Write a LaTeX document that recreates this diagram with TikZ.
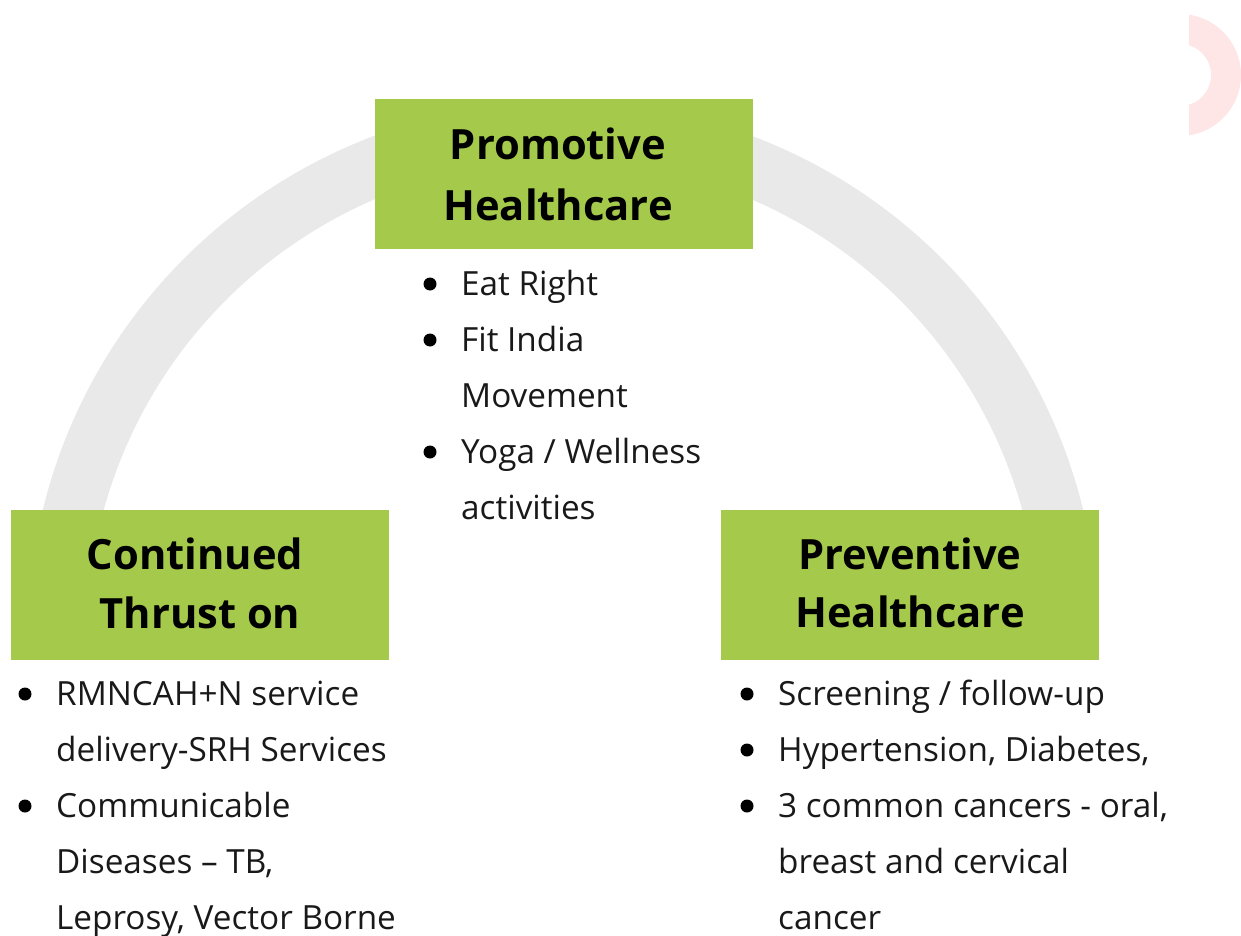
\documentclass[tikz,border=0pt]{standalone}
\usepackage{fontspec}
\setmainfont{Open Sans}
\definecolor{boxgreen}{HTML}{A5C94A}
\definecolor{archgrey}{HTML}{E9E9E9}
\definecolor{ringpink}{HTML}{FEE6E6}
\tikzset{
  headbox/.style={fill=boxgreen,draw=none,minimum width=378pt,minimum height=150pt,inner sep=0pt,anchor=north west},
  head/.style={font=\fontsize{41.7}{41.7}\selectfont\bfseries,text=black,inner sep=0pt,anchor=base},
  item/.style={font=\fontsize{33.3}{33.3}\selectfont,text=black!90,inner sep=0pt,anchor=base west},
  dot/.style={circle,fill=black,minimum size=13pt,inner sep=0pt}
}
\begin{document}
\begin{tikzpicture}[x=1pt,y=-1pt]
\useasboundingbox (0,0) rectangle (1241,936);
\begin{scope}
\clip (1189,0) rectangle (1241,160);
\fill[ringpink,even odd rule] (1180,75) circle[radius=61] (1180,75) circle[radius=31];
\end{scope}
\coordinate (archL) at ({563+506*cos(168)},{637-506*sin(12)});
\draw[archgrey,line width=59pt] (archL) arc[start angle=192,end angle=348,radius=506];
\node[headbox] (boxP) at (375,99) {};
\node[headbox] (boxC) at (11,510) {};
\node[headbox] (boxV) at (721,510) {};
\node[head] (h1) at (558,160) {Promotive};
\node[head] (h2) at (558,220) {Healthcare};
\node[head] (h3) at (195,569) {Continued};
\node[head] (h4) at (200,628) {Thrust on};
\node[head] (h5) at (910,569) {Preventive};
\node[head] (h6) at (910,627) {Healthcare};
\node[dot] (d1) at (430,284) {};
\node[item] (t1) at (461,295) {Eat Right};
\node[dot] (d2) at (430,340) {};
\node[item] (t2) at (461,351) {Fit India};
\node[item] (t3) at (461,407) {Movement};
\node[dot] (d3) at (430,452) {};
\node[item] (t4) at (461,463) {Yoga / Wellness};
\node[item] (t5) at (461,519) {activities};
\node[dot] (d4) at (25,694) {};
\node[item] (t6) at (56,705) {RMNCAH+N service};
\node[item] (t7) at (56,761) {delivery-SRH Services};
\node[dot] (d5) at (25,806) {};
\node[item] (t8) at (56,817) {Communicable};
\node[item] (t9) at (56,873) {Diseases – TB,};
\node[item] (t10) at (56,929) {Leprosy, Vector Borne};
\node[dot] (d6) at (747,694) {};
\node[item] (t11) at (778,705) {Screening / follow-up};
\node[dot] (d7) at (747,750) {};
\node[item] (t12) at (778,761) {Hypertension, Diabetes,};
\node[dot] (d8) at (747,806) {};
\node[item] (t13) at (778,817) {3 common cancers - oral,};
\node[item] (t14) at (778,873) {breast and cervical};
\node[item] (t15) at (778,929) {cancer};
\end{tikzpicture}
\end{document}
